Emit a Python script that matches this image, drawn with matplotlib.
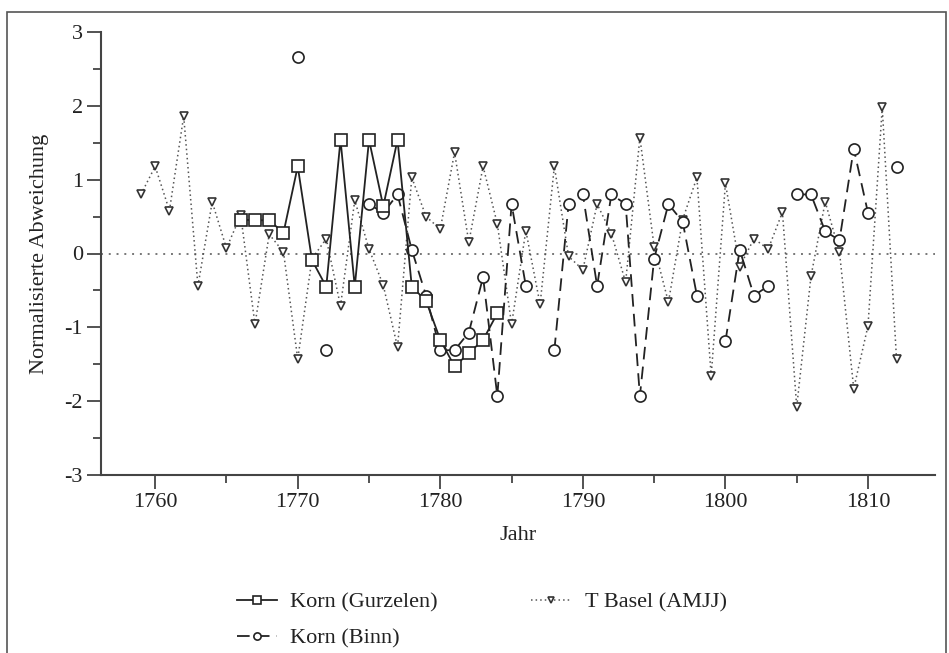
import matplotlib.pyplot as plt
import numpy as np
from matplotlib.patches import Rectangle
from matplotlib.ticker import MultipleLocator

plt.rcParams['font.family'] = ['Liberation Serif', 'DejaVu Serif']
plt.rcParams['axes.unicode_minus'] = False

nan = np.nan

# T Basel (AMJJ), 1759-1812
basel_years = list(range(1759, 1813))
basel_vals = [0.80, 1.18, 0.58, 1.86, -0.44, 0.70, 0.07, 0.52, -0.96, 0.26,
              0.02, -1.43, -0.07, 0.20, -0.71, 0.72, 0.06, -0.43, -1.27, 1.03,
              0.50, 0.33, 1.37, 0.15, 1.18, 0.40, -0.96, 0.31, -0.69, 1.18,
              -0.04, -0.22, 0.67, 0.27, -0.39, 1.57, 0.09, -0.66, 0.46, 1.03,
              -1.66, 0.95, -0.18, 0.20, 0.06, 0.56, -2.08, -0.31, 0.70, 0.02,
              -1.83, -0.98, 1.98, -1.43]

# Korn (Gurzelen), 1766-1784
gurz_years = list(range(1766, 1785))
gurz_vals = [0.46, 0.45, 0.45, 0.28, 1.18, -0.09, -0.45, 1.54, -0.45, 1.54,
             0.64, 1.54, -0.45, -0.64, -1.17, -1.53, -1.35, -1.17, -0.81]

# Korn (Binn), 1770-1812 (nan = no value)
binn_years = list(range(1770, 1813))
binn_vals = [2.66, nan, -1.31, nan, nan, 0.67, 0.55, 0.80, 0.05, -0.57,
             -1.31, -1.31, -1.07, -0.32, -1.93, 0.67, -0.44, nan, -1.31, 0.67,
             0.80, -0.44, 0.80, 0.67, -1.93, -0.07, 0.67, 0.43, -0.57, nan,
             -1.19, 0.05, -0.57, -0.44, nan, 0.80, 0.80, 0.30, 0.18, 1.42,
             0.55, nan, 1.17]

txt = '#222222'
axc = '#444444'

fig = plt.figure(figsize=(9.49, 6.53), dpi=100)
ax = fig.add_axes([101/949, 1 - 475/653, 834/949, 443/653])

# figure border
fig.patches.append(Rectangle((7/949, -0.05), 939/949, 1.05 - 12/653,
                             transform=fig.transFigure, fill=False,
                             edgecolor='#555555', linewidth=1.2))

ax.axhline(0, color='#777777', linewidth=1.4, linestyle=(0, (1, 3)), zorder=1)

ax.plot(basel_years, basel_vals, color='#555555', linewidth=1.1,
        linestyle=(0, (1, 2)), marker='v', markersize=6,
        markerfacecolor='white', markeredgecolor='#333333',
        markeredgewidth=1.2, label='T Basel (AMJJ)', zorder=2)
ax.plot(binn_years, binn_vals, color='#222222', linewidth=1.3,
        linestyle=(0, (7, 4)), marker='o', markersize=8,
        markerfacecolor='white', markeredgecolor='#222222',
        markeredgewidth=1.2, label='Korn (Binn)', zorder=3)
ax.plot(gurz_years, gurz_vals, color='#222222', linewidth=1.3,
        linestyle='-', marker='s', markersize=8,
        markerfacecolor='white', markeredgecolor='#222222',
        markeredgewidth=1.2, label='Korn (Gurzelen)', zorder=4)

ax.set_xlim(1756.2, 1814.7)
ax.set_ylim(-3, 3)
ax.xaxis.set_major_locator(MultipleLocator(10))
ax.xaxis.set_minor_locator(MultipleLocator(5))
ax.yaxis.set_major_locator(MultipleLocator(1))
ax.yaxis.set_minor_locator(MultipleLocator(0.5))

for s in ['top', 'right']:
    ax.spines[s].set_visible(False)
for s in ['left', 'bottom']:
    ax.spines[s].set_color(axc)
    ax.spines[s].set_linewidth(1.5)

ax.tick_params(axis='both', which='major', direction='out', length=10,
               width=1.3, color=axc, labelsize=16, labelcolor=txt, pad=3)
ax.tick_params(axis='both', which='minor', direction='out', length=6,
               width=1.3, color=axc)

ax.set_xlabel('Jahr', fontsize=16, color=txt, labelpad=10)
ax.set_ylabel('Normalisierte Abweichung', fontsize=16, color=txt, labelpad=11)

# column-wise fill: Gurzelen, Binn in col 1; T Basel in col 2
h, l = ax.get_legend_handles_labels()
order = [2, 1, 0]
leg = fig.legend([h[i] for i in order], [l[i] for i in order], ncol=2,
                 loc='upper left', bbox_to_anchor=(237/949, 1 - 592/653),
                 frameon=False, fontsize=16, handlelength=1.8,
                 markerscale=0.65, columnspacing=4.2, labelspacing=0.7,
                 handletextpad=0.6, borderpad=0, borderaxespad=0,
                 labelcolor=txt)

fig.savefig('out.png', dpi=100)
